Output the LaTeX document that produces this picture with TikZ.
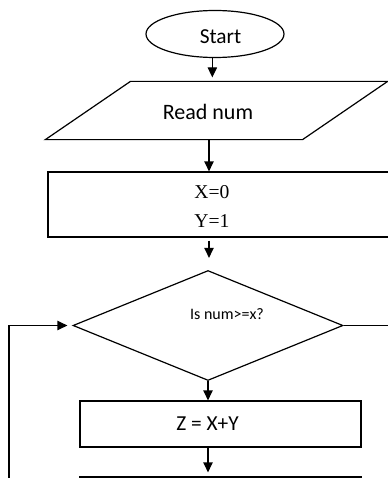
\documentclass[tikz,border=0pt]{standalone}
\usepackage{fontspec}
\setmainfont{Carlito}
\newfontfamily\serifnum{Liberation Serif}
\usetikzlibrary{arrows.meta,shapes.geometric,positioning}

\begin{document}
\begin{tikzpicture}[x=0.75pt,y=-0.75pt,line width=0.9pt,
  term/.style={draw,ellipse,minimum width=103.5pt,minimum height=35.25pt,inner sep=0pt},
  inout/.style={rectangle,minimum width=192pt,minimum height=42.75pt,inner sep=0pt},
  procbox/.style={draw,rectangle,inner sep=0pt},
  decide/.style={draw,diamond,minimum width=202.5pt,minimum height=82.5pt,inner sep=0pt},
  flow/.style={-{Triangle[width=7pt,length=7.5pt]}},
  big/.style={font=\fontsize{16}{19}\selectfont}]
  \useasboundingbox (0,0) rectangle (388,478);
  \clip (0,0) rectangle (388,478);
  % shapes
  \node[term] (start) at (215,34) {};
  \node[inout] (read) at (216.5,110.5) {};
  \draw ([xshift=-31.9pt]read.south west) -- ([xshift=31.9pt]read.north west)
    -- ([xshift=31.9pt]read.north east) -- ([xshift=-31.9pt]read.south east) -- cycle;
  \node[procbox,minimum width=286.5pt,minimum height=48.75pt] (init) at (239,204.5) {};
  \node[decide] (check) at (208,325.5) {};
  \node[procbox,minimum width=210.75pt,minimum height=34.5pt] (sum) at (220.5,424) {};
  \node[procbox,minimum width=210.75pt,minimum height=34.5pt] (next) at (220.5,500) {};
  % texts
  \node[big] (startText) at (220.5,37) {Start};
  \node[font=\fontsize{16.5}{19}\selectfont] (readText) at (208,112) {Read num};
  \node[font=\serifnum\fontsize{14.7}{21.75}\selectfont,align=center] (initText) at (212,206.5) {X=0\\Y=1};
  \node[font=\fontsize{12}{14}\selectfont] (checkText) at (227,314) {Is num>=x?};
  \node[big] (sumText) at (207.6,424) {Z = X+Y};
  % flow lines
  \coordinate (axis) at (209,0);
  \coordinate (back) at (9,520);
  \coordinate (out) at (430,325.5);
  \draw[flow,shorten >=3pt] ([xshift=-2pt]start.south) -- ([xshift=-2pt]start.south |- read.north);
  \draw[flow] (read.south -| axis) -- (init.north -| axis);
  \draw[flow,shorten <=2.25pt,shorten >=9pt] (init.south -| axis) -- (check.north -| axis);
  \draw[flow] (check.south) -- (check.south |- sum.north);
  \draw[flow,shorten >=3pt] (sum.south -| check.south) -- (next.north -| check.south);
  \draw (check.east) -- (out);
  \draw[flow,shorten >=3.75pt] (back) |- (check.west);
\end{tikzpicture}
\end{document}
